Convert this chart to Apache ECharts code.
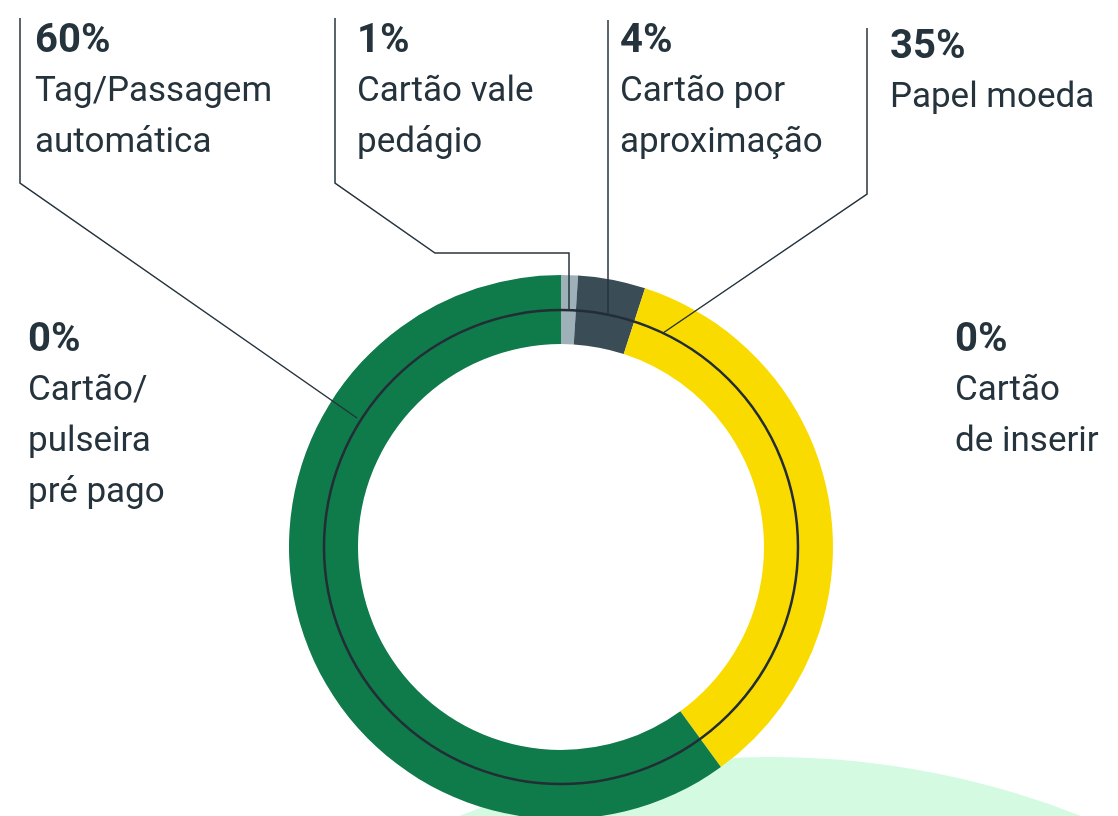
<!DOCTYPE html>
<html>
<head>
<meta charset="utf-8">
<script src="https://cdn.jsdelivr.net/npm/echarts@6/dist/echarts.min.js"></script>
<style>
  html, body { margin: 0; padding: 0; background: #fff; }
  #chart { width: 1118px; height: 816px; }
</style>
</head>
<body>
<div id="chart"></div>
<script>
// dados (ordem horária a partir do topo)
var categories = ['Cartão vale\npedágio', 'Cartão por\naproximação', 'Papel moeda', 'Cartão\nde inserir', 'Cartão/\npulseira\npré pago', 'Tag/Passagem\nautomática'];
var values = [1, 4, 35, 0, 0, 60];
var colors = ['#9fb1b8', '#3a4d56', '#fadb00', '#fadb00', '#0f7a4a', '#0f7a4a'];

// onde fica cada rótulo (canto superior esquerdo)
var labelPos = [[357, 16], [620, 16], [890, 22], [955, 315], [28, 315], [35, 16]];

var textColor = '#25333c';
var center = [561, 547];

var myChart = echarts.init(document.getElementById('chart'));

// linhas de chamada
var leaders = [
  [[20, 18], [20, 183], [357, 418]],
  [[335, 18], [335, 183], [435, 253], [569, 253], [569, 311]],
  [[608, 20], [608, 316]],
  [[867, 28], [867, 194], [663, 333]]
];

var graphics = [{
  type: 'circle',
  z: -10,
  silent: true,
  shape: { cx: 770, cy: 1607, r: 850 },
  style: { fill: '#d4fbe2' }
}, {
  type: 'circle',
  z: 100,
  silent: true,
  shape: { cx: center[0], cy: center[1], r: 237 },
  style: { fill: null, stroke: '#232d36', lineWidth: 2.5 }
}];
leaders.forEach(function (pts) {
  graphics.push({
    type: 'polyline',
    z: 100,
    silent: true,
    shape: { points: pts },
    style: { fill: null, stroke: textColor, lineWidth: 1.5 }
  });
});

var option = {
  animation: false,
  graphic: graphics,
  series: [{
    type: 'pie',
    center: center,
    radius: [203, 272],
    startAngle: 90,
    clockwise: true,
    silent: true,
    avoidLabelOverlap: false,
    itemStyle: { borderWidth: 0 },
    labelLine: { show: false },
    label: {
      show: true,
      formatter: function (p) {
        return '{b|' + p.value + '%}\n' + p.name.split('\n').map(function (s) {
          return '{n|' + s + '}';
        }).join('\n');
      },
      rich: {
        b: { fontFamily: 'Roboto', fontWeight: 'bold', fontSize: 40, lineHeight: 51, color: textColor },
        n: { fontFamily: 'Roboto', fontSize: 35, lineHeight: 51, color: textColor }
      }
    },
    labelLayout: function (p) {
      var pos = labelPos[p.dataIndex];
      return { x: pos[0], y: pos[1], align: 'left', verticalAlign: 'top' };
    },
    data: categories.map(function (c, i) {
      return { name: c, value: values[i], itemStyle: { color: colors[i] } };
    })
  }]
};

myChart.setOption(option);
</script>
</body>
</html>
